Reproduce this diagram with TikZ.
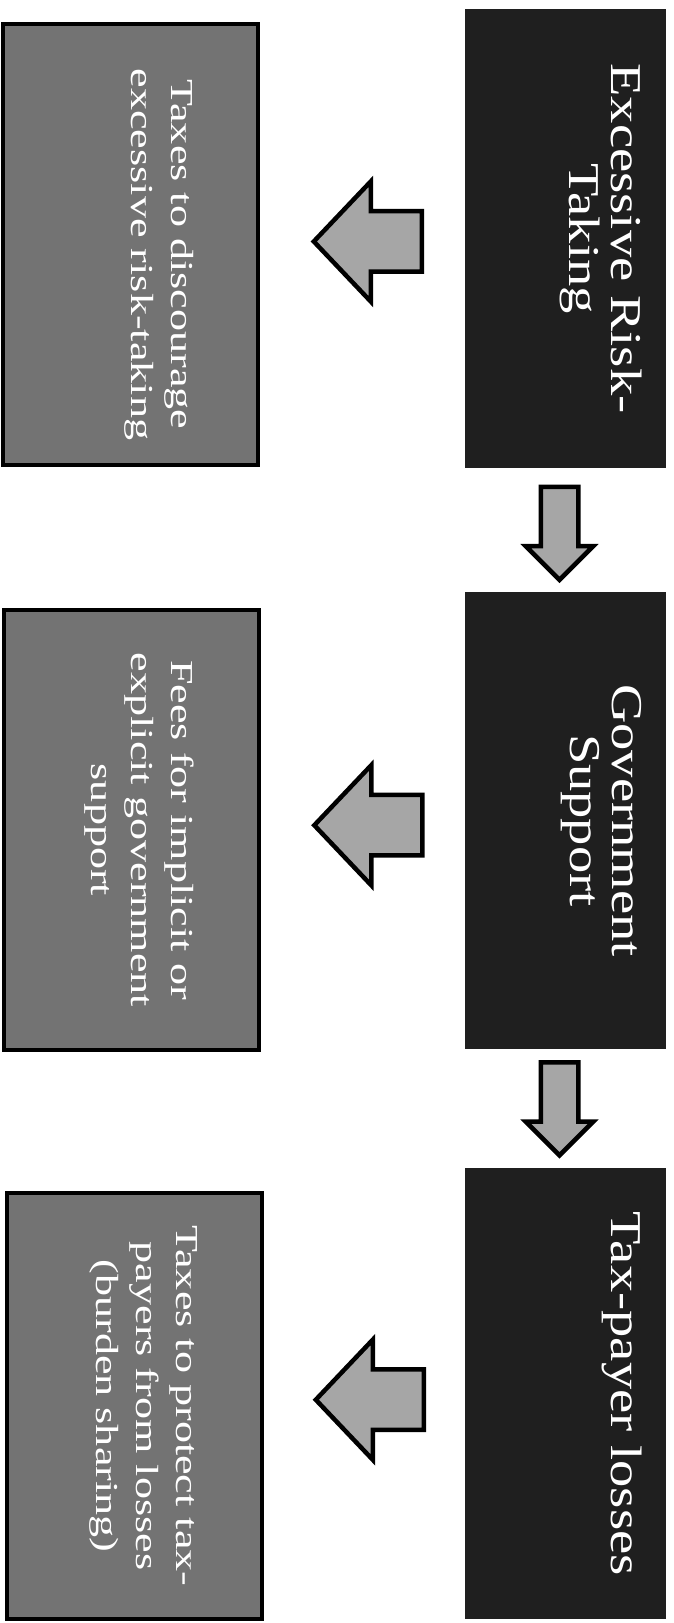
\documentclass[tikz,border=0pt]{standalone}
\usepackage{fontspec}
\setmainfont{Liberation Serif}
\usetikzlibrary{shapes.arrows,calc}

\tikzset{
  darkbox/.style={fill=black!88, minimum width=201pt, inner sep=0pt},
  lightbox/.style={fill=black!55, draw=black, line width=4pt, minimum width=255pt, inner sep=0pt},
  darktext/.style={rotate=-90, xscale=1.24, anchor=north, align=center, inner sep=0pt,
    text=white, font=\fontsize{44}{42}\selectfont},
  lighttext/.style={rotate=-90, xscale=1.38, anchor=north, align=center, inner sep=0pt,
    text=white, font=\fontsize{32}{40}\selectfont},
  sidearrow/.style={single arrow, shape border rotate=180, draw=black, line width=4.5pt,
    fill=black!35, inner sep=28pt, minimum height=108pt,
    single arrow head extend=30pt, single arrow tip angle=93},
  downarrow/.style={single arrow, shape border rotate=270, draw=black, line width=4.5pt,
    fill=black!35, inner sep=16.5pt, minimum height=93pt,
    single arrow head extend=15pt, single arrow tip angle=90}
}

\begin{document}
\begin{tikzpicture}[x=1pt,y=1pt]
\useasboundingbox (0,0) rectangle (673,1623);

% Problems
\node[darkbox, minimum height=459pt] (risk) at (565.5,1384.5) {};
\node[darkbox, minimum height=457pt] (govt) at (565.5,802.5) {};
\node[darkbox, minimum height=451pt] (losses) at (565.5,229.5) {};

% Remedies
\node[lightbox, minimum height=441pt] (taxrisk) at (130,1378.5) {};
\node[lightbox, minimum height=440pt] (feegovt) at (131,793) {};
\node[lightbox, minimum height=426pt] (taxloss) at (134,217) {};

% Texts
\node[darktext] (risklabel) at ([xshift=-24pt]risk.east) {Excessive Risk-\\Taking};
\node[darktext] (govtlabel) at ([xshift=-24pt]govt.east) {Government\\Support};
\node[darktext] (losseslabel) at ([xshift=-24pt]losses.east) {Tax-payer losses};
\node[lighttext] (taxrisklabel) at ([xshift=-66pt,yshift=-10pt]taxrisk.east) {Taxes to discourage\\excessive risk-taking};
\node[lighttext] (feegovtlabel) at ([xshift=-66pt]feegovt.east) {Fees for implicit or\\explicit government\\support};
\node[lighttext] (taxlosslabel) at ([xshift=-66pt]taxloss.east) {Taxes to protect tax-\\payers from losses\\(burden sharing)};

% Arrows down the chain
\node[downarrow] (down1) at ([xshift=-6pt,yshift=6pt]$(risk.south)!0.5!(govt.north)$) {};
\node[downarrow] (down2) at ([xshift=-6pt,yshift=9pt]$(govt.south)!0.5!(losses.north)$) {};

% Arrows to the remedies
\node[sidearrow] (side1) at ([xshift=20pt]$(taxrisk.east)!0.5!(risk.west)$) {};
\node[sidearrow] (side2) at ([xshift=20pt]$(feegovt.east)!0.5!(govt.west)$) {};
\node[sidearrow] (side3) at ([xshift=20pt]$(taxloss.east)!0.5!(losses.west)$) {};

\end{tikzpicture}
\end{document}
